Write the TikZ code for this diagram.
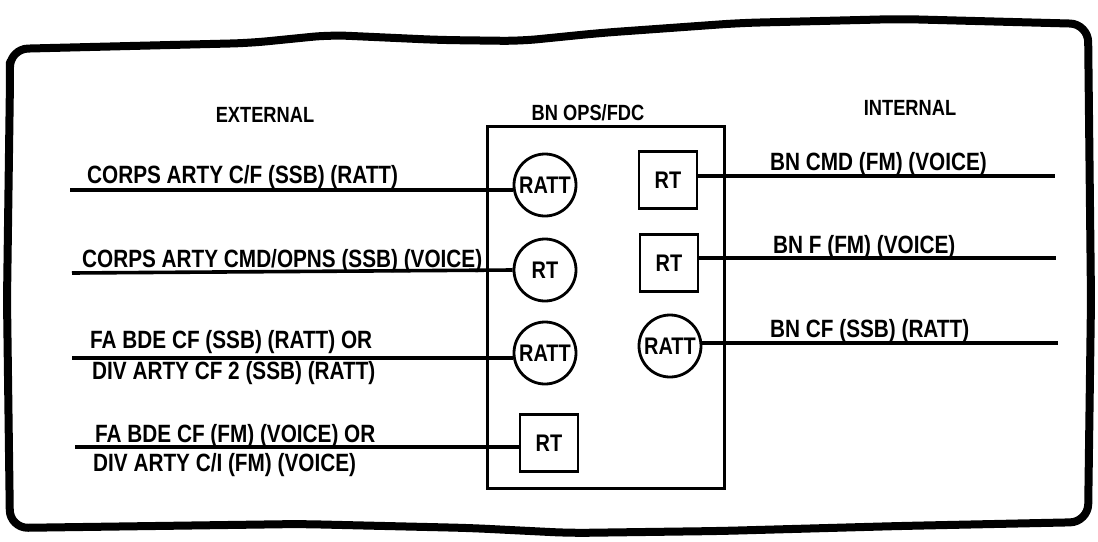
\documentclass[tikz,border=0pt]{standalone}
\usepackage{fontspec}
\newfontfamily\lab{Liberation Sans Bold}[FakeStretch=0.83]
\begin{document}
\begin{tikzpicture}[x=1pt,y=-1pt,
  wire/.style={line width=3.6pt},
  rcirc/.style={circle,draw,line width=2.8pt,minimum size=62pt,inner sep=0pt,font=\lab\fontsize{24}{26}\selectfont},
  rsq/.style={rectangle,draw,line width=2.8pt,minimum width=58pt,minimum height=57pt,inner sep=0pt,font=\lab\fontsize{24}{26}\selectfont},
  lbl/.style={anchor=base west,inner sep=0pt,font=\lab\fontsize{25}{28}\selectfont},
  head/.style={anchor=base,inner sep=0pt,font=\lab\fontsize{22}{24}\selectfont}]
\useasboundingbox (0,0) rectangle (1098,541);
% torn frame
\draw[line width=8pt,rounded corners=18pt,line join=round]
  (10,80) -- (7,300) -- (10,528) -- (300,524) -- (470,528) -- (570,533) -- (720,531) -- (900,526) -- (1088,522)
  -- (1091,300) -- (1088,24) -- (900,19) -- (740,23) -- (600,33) -- (520,41) -- (440,40) -- (330,35) -- (250,43) -- (10,49) -- cycle;
% headings
\node[head] (hext) at (265,122) {EXTERNAL};
\node[head] (hops) at (588,120) {BN OPS/FDC};
\node[head] (hint) at (910,115) {INTERNAL};
% central box
\node[draw,line width=3pt,minimum width=237pt,minimum height=362pt,inner sep=0pt] (box) at (605.5,307) {};
% left column
\node[rcirc] (c1) at (545,185) {RATT};
\node[rcirc] (c2) at (545,270) {RT};
\node[rcirc] (c3) at (545,353) {RATT};
\node[rsq] (s4) at (549,443) {RT};
% right column
\node[rsq] (s1) at (668,180) {RT};
\node[rsq] (s2) at (669,263) {RT};
\node[rcirc] (c5) at (670,346) {RATT};
% end coordinates
\coordinate (e1) at (70,190);
\coordinate (e2) at (72,273);
\coordinate (e3) at (72,358);
\coordinate (e4) at (75,447);
\coordinate (f1) at (1055,176);
\coordinate (f2) at (1056,258);
\coordinate (f3) at (1058,343);
% wires
\draw[wire] (e1) -- (e1 -| c1.west);
\draw[wire] (e2) -- (c2.west);
\draw[wire] (e3) -- (e3 -| c3.west);
\draw[wire] (e4) -- (e4 -| s4.west);
\draw[wire] (s1.east |- f1) -- (f1);
\draw[wire] (s2.east |- f2) -- (f2);
\draw[wire] (c5.east |- f3) -- (f3);
% labels
\node[lbl] (l1) at (87,183) {CORPS ARTY C/F (SSB) (RATT)};
\node[lbl] (l2) at (82,267) {CORPS ARTY CMD/OPNS (SSB) (VOICE)};
\node[lbl] (l3a) at (90,348) {FA BDE CF (SSB) (RATT) OR};
\node[lbl] (l3b) at (92,379) {DIV ARTY CF 2 (SSB) (RATT)};
\node[lbl] (l4a) at (95,442) {FA BDE CF (FM) (VOICE) OR};
\node[lbl] (l4b) at (93,471) {DIV ARTY C/I (FM) (VOICE)};
\node[lbl] (r1) at (770,170) {BN CMD (FM) (VOICE)};
\node[lbl] (r2) at (773,253) {BN F (FM) (VOICE)};
\node[lbl] (r3) at (770,337) {BN CF (SSB) (RATT)};
\end{tikzpicture}
\end{document}
